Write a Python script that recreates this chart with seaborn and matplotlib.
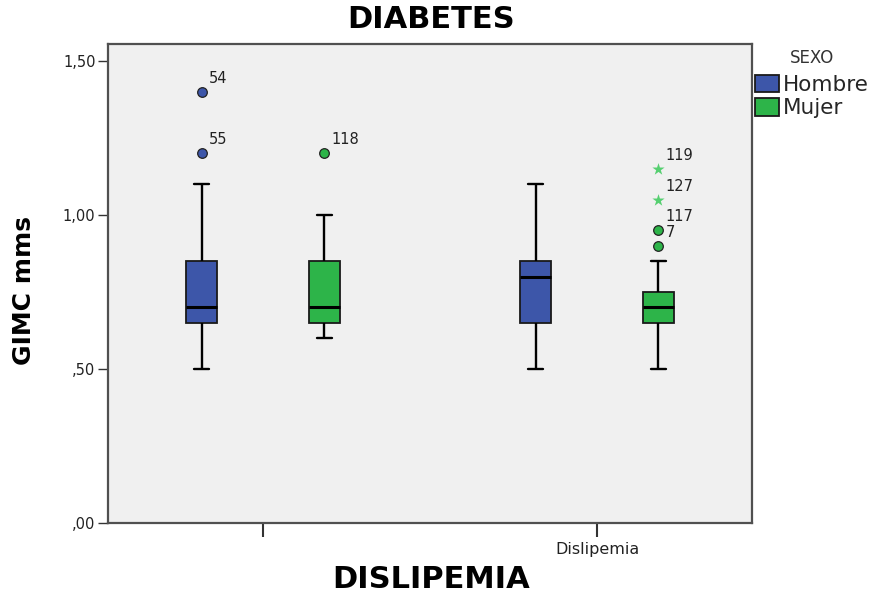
import numpy as np
import pandas as pd
import matplotlib
matplotlib.use("Agg")
import matplotlib.pyplot as plt
from matplotlib import cbook
import seaborn as sns

# ---------------- data ----------------
groups = ["No", "Dislipemia"]
group_ticklabels = ["", "Dislipemia"]
sexos = ["Hombre", "Mujer"]

gimc_no_hombre = [0.50, 0.55, 0.60, 0.65, 0.65, 0.70, 0.70, 0.75, 0.80, 0.85, 1.10, 1.20, 1.40]
gimc_no_mujer = [0.60, 0.60, 0.65, 0.65, 0.65, 0.70, 0.70, 0.75, 0.80, 0.85, 0.90, 1.00, 1.20]
gimc_si_hombre = [0.50, 0.60, 0.65, 0.70, 0.80, 0.80, 0.85, 0.95, 1.10]
gimc_si_mujer = [0.50, 0.55, 0.60, 0.60, 0.65, 0.65, 0.65, 0.70, 0.70, 0.70, 0.70,
                 0.70, 0.75, 0.75, 0.75, 0.75, 0.85, 0.90, 0.95, 1.05, 1.15]

# case numbers of the outlying values
case_no_hombre = {1.40: "54", 1.20: "55"}
case_no_mujer = {1.20: "118"}
case_si_hombre = {}
case_si_mujer = {1.15: "119", 1.05: "127", 0.95: "117", 0.90: "7"}

y_ticks = [0.0, 0.5, 1.0, 1.5]
y_ticklabels = [",00", ",50", "1,00", "1,50"]

series = {
    ("No", "Hombre"): (gimc_no_hombre, case_no_hombre),
    ("No", "Mujer"): (gimc_no_mujer, case_no_mujer),
    ("Dislipemia", "Hombre"): (gimc_si_hombre, case_si_hombre),
    ("Dislipemia", "Mujer"): (gimc_si_mujer, case_si_mujer),
}

rows = []
for (g, s), (vals, _) in series.items():
    for v in vals:
        rows.append({"dislipemia": g, "sexo": s, "gimc": v})
df = pd.DataFrame(rows)

# ---------------- style ----------------
sns.set_theme(style="ticks")
plt.rcParams["font.family"] = ["DejaVu Sans"]

palette = {"Hombre": "#3D56A9", "Mujer": "#2DB449"}
star_color = "#55CF70"
bg = "#F0F0F0"
frame = "#505050"

fig = plt.figure(figsize=(8.77, 5.93), dpi=100)
fig.patch.set_facecolor("white")
ax = fig.add_axes([108 / 877, 70 / 593, 644 / 877, 479 / 593])
ax.set_facecolor(bg)

box_width = 0.736
sns.boxplot(
    data=df, x="dislipemia", y="gimc", hue="sexo",
    order=groups, hue_order=sexos, palette=palette, saturation=1,
    width=box_width, gap=0.745, showfliers=False, whis=1.5,
    linecolor="#1a1a1a", linewidth=1.3,
    whiskerprops=dict(linewidth=1.7, color="black"),
    capprops=dict(linewidth=1.7, color="black"),
    medianprops=dict(linewidth=2.2, color="black"),
    ax=ax,
)

# outliers (circles) and extremes (stars) with case labels
for i, g in enumerate(groups):
    for j, s in enumerate(sexos):
        vals, cases = series[(g, s)]
        st = cbook.boxplot_stats(np.asarray(vals), whis=1.5)[0]
        iqr = st["q3"] - st["q1"]
        xpos = i + (j - 0.5) * box_width / 2
        for v in st["fliers"]:
            extreme = (v >= st["q3"] + 3 * iqr - 1e-9) or (v <= st["q1"] - 3 * iqr + 1e-9)
            if extreme:
                ax.scatter([xpos], [v], marker="*", s=85, color=star_color,
                           linewidths=0, zorder=5)
            else:
                ax.scatter([xpos], [v], marker="o", s=48, color=palette[s],
                           edgecolors="#222222", linewidths=0.9, zorder=5)
            label = cases.get(round(float(v), 2), "")
            if label:
                ax.annotate(label, (xpos, v), xytext=(7, 6), textcoords="offset pixels",
                            ha="left", va="bottom", fontsize=10.5, color="#222222")

ax.set_xlim(-0.464, 1.464)
ax.set_ylim(0, 1.555)
ax.set_yticks(y_ticks)
ax.set_yticklabels(y_ticklabels)
ax.set_xticks(range(len(groups)))
ax.set_xticklabels(group_ticklabels)
ax.set_xlabel("")
ax.set_ylabel("")
ax.tick_params(axis="y", length=7, width=1, color="#333333", labelsize=10.5, labelcolor="#222222", pad=2)
ax.tick_params(axis="x", length=10, width=1.5, color="#333333", labelsize=11.5, labelcolor="#222222", pad=4)
for sp in ax.spines.values():
    sp.set_visible(True)
    sp.set_color(frame)
    sp.set_linewidth(1.6)

sns.move_legend(
    ax, "upper left", bbox_to_anchor=(1.005, 0.99), frameon=False,
    title="SEXO", fontsize=15.5, title_fontsize=12,
    handlelength=1.1, handleheight=0.85, handletextpad=0.2,
    labelspacing=0.15, borderaxespad=0, borderpad=0,
)
leg = ax.get_legend()
leg.get_title().set_color("#333333")
leg._legend_box.sep = 6

fig.text(431 / 877, 1 - 19 / 593, "DIABETES", ha="center", va="center",
         fontsize=22, fontweight="bold", color="black")
fig.text(431 / 877, 1 - 579 / 593, "DISLIPEMIA", ha="center", va="center",
         fontsize=22, fontweight="bold", color="black")
fig.text(24 / 877, 1 - 290 / 593, "GIMC mms", ha="center", va="center",
         rotation=90, fontsize=18, fontweight="bold", color="black")

fig.savefig("out.png", dpi=100)
